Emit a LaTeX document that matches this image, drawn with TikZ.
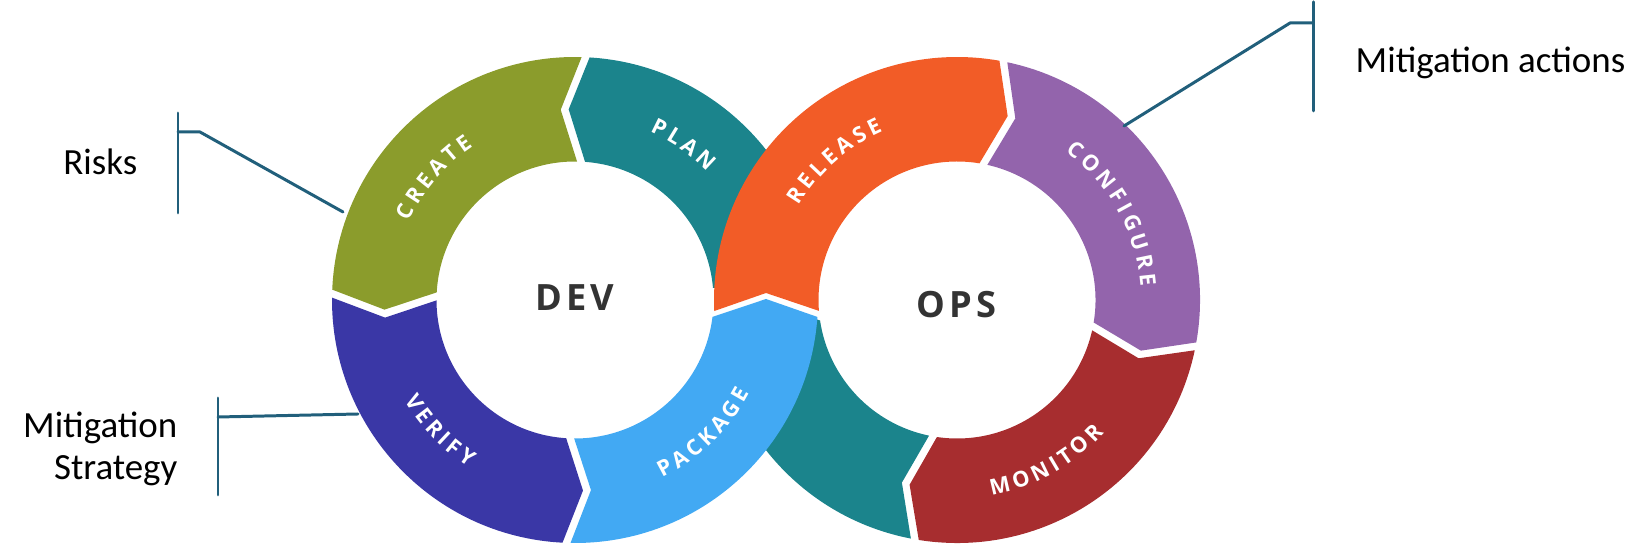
\documentclass[tikz,border=0pt]{standalone}
\usepackage{fontspec}
\setmainfont{Carlito}
\newfontfamily\opensans{Open Sans}[WordSpace=0.7]
\usetikzlibrary{calc,decorations.text}
\definecolor{cCreate}{HTML}{8B9C2C}
\definecolor{cTeal}{HTML}{1B848C}
\definecolor{cVerify}{HTML}{3A37A6}
\definecolor{cPackage}{HTML}{42A9F3}
\definecolor{cRelease}{HTML}{F25C27}
\definecolor{cConfig}{HTML}{9364AC}
\definecolor{cMonitor}{HTML}{A72D2F}
\definecolor{cLine}{HTML}{215F7B}
\definecolor{cDark}{HTML}{333333}
\def\RgIn{138.5}
\def\RgOut{243}
\def\RgMid{190.75}
\def\GpIn{1.655}
\def\GpOut{0.943}
\def\GpMid{1.2}
\def\TipD{5.6}
\newcommand{\labfont}{\opensans\bfseries\fontsize{6.2}{7}\selectfont}
% #1 centre, #2 start boundary angle, #3 end boundary angle, #4 direction (+1/-1), #5 colour
\newcommand{\ringseg}[5]{%
  \fill[#5] ($(#1)+({#2+(#4)*\GpIn}:\RgIn)$)
    -- ($(#1)+({#2+(#4)*(\GpMid+\TipD)}:\RgMid)$)
    -- ($(#1)+({#2+(#4)*\GpOut}:\RgOut)$)
    arc[start angle={#2+(#4)*\GpOut}, end angle={#3-(#4)*\GpOut}, radius=\RgOut]
    -- ($(#1)+({#3-(#4)*(\GpMid-\TipD)}:\RgMid)$)
    -- ($(#1)+({#3-(#4)*\GpIn}:\RgIn)$)
    arc[start angle={#3-(#4)*\GpIn}, end angle={#2+(#4)*\GpIn}, radius=\RgIn]
    -- cycle;}
% #1 centre, #2 start angle, #3 end angle, #4 radius, #5 text
\newcommand{\arclabel}[5]{%
  \path[decorate, decoration={text along path, text={|\labfont|#5}, text align=center, text color=white}]
    ($(#1)+(#2:#4)$) arc[start angle=#2, end angle=#3, radius=#4];}
\tikzset{
  lbl/.style={font=\fontsize{10.5}{12.5}\selectfont, text=black, inner sep=0pt},
  bracket/.style={draw=cLine, line width=0.85pt, line cap=round, line join=round},
  centrelbl/.style={font=\opensans\bfseries\fontsize{10.3}{12}\selectfont, text=cDark, inner sep=0pt}
}
\begin{document}
\begin{tikzpicture}[x=0.01cm,y=0.01cm]
\useasboundingbox (0,0) rectangle (1652,549);
\coordinate (D) at (575,249);
\coordinate (O) at (957,249);
\coordinate (xTipUp) at (766,250);   % tip of PACKAGE
\coordinate (xNotch) at (766,256);   % notch of RELEASE
\coordinate (xHide) at (766,247);    % hidden end of teal band
% teal band, DEV part (PLAN)
\fill[cTeal] ($(D)+(5:\RgIn)$) -- ($(D)+(5:\RgOut)$)
  arc[start angle=5, end angle={87.5-\GpOut}, radius=\RgOut]
  -- ($(D)+({87.5-\GpMid+\TipD}:\RgMid)$)
  -- ($(D)+({87.5-\GpIn}:\RgIn)$)
  arc[start angle={87.5-\GpIn}, end angle=5, radius=\RgIn] -- cycle;
% teal band, OPS part
\fill[cTeal] ($(O)+({-100-\GpIn}:\RgIn)$)
  -- ($(O)+({-100-\GpMid-\TipD}:\RgMid)$)
  -- ($(O)+({-100-\GpOut}:\RgOut)$)
  arc[start angle={-100-\GpOut}, end angle=-175.5, radius=\RgOut]
  -- (xHide)
  -- ($(O)+(-171.5:\RgIn)$)
  arc[start angle=-171.5, end angle={-100-\GpIn}, radius=\RgIn] -- cycle;
\ringseg{D}{87.5}{178.5}{1}{cCreate}
\ringseg{D}{178.5}{268}{1}{cVerify}
% PACKAGE
\fill[cPackage] ($(D)+({268+\GpIn}:\RgIn)$)
  -- ($(D)+({268+\GpMid+\TipD}:\RgMid)$)
  -- ($(D)+({268+\GpOut}:\RgOut)$)
  arc[start angle={268+\GpOut}, end angle=356, radius=\RgOut]
  -- (xTipUp)
  -- ($(D)+(353:\RgIn)$)
  arc[start angle=353, end angle={268+\GpIn}, radius=\RgIn] -- cycle;
% RELEASE
\fill[cRelease] ($(O)+(184.5:\RgIn)$)
  -- (xNotch)
  -- ($(O)+(182.6:\RgOut)$)
  arc[start angle=182.6, end angle={79+\GpOut}, radius=\RgOut]
  -- ($(O)+({79+\GpMid-\TipD}:\RgMid)$)
  -- ($(O)+({79+\GpIn}:\RgIn)$)
  arc[start angle={79+\GpIn}, end angle=184.5, radius=\RgIn] -- cycle;
\ringseg{O}{79}{-11}{-1}{cConfig}
\ringseg{O}{-11}{-100}{-1}{cMonitor}
% ring labels
\arclabel{D}{179}{99}{184}{C R E A T E}
\arclabel{D}{95}{15}{184}{P L A N}
\arclabel{D}{184}{264}{198}{V E R I F Y}
\arclabel{D}{274}{354}{198}{P A C K A G E}
\arclabel{O}{171.5}{91.5}{184}{R E L E A S E}
\arclabel{O}{69}{-11}{184}{C O N F I G U R E}
\arclabel{O}{259}{339}{198}{M O N I T O R}
% centre labels
\node[centrelbl] (dev) at (575,251) {D\kern1.2pt E\kern1.2pt V};
\node[centrelbl] (ops) at (956,244) {O\kern1.2pt P\kern1.2pt S};
% side texts
\node[lbl, anchor=base east] (risks) at (138,374) {Risks};
\node[lbl, anchor=base east] (mit1) at (178,111) {Mitigation};
\node[lbl, anchor=base east] (mit2) at (178,69) {Strategy};
\node[lbl, anchor=base west] (mact) at (1355,476) {Mitigation actions};
% brackets
\coordinate (rTop) at (178,436);
\coordinate (rBot) at (178,336);
\coordinate (rTick) at (178,417);
\coordinate (rKnee) at (200,417);
\coordinate (rEnd) at (343,337);
\draw[bracket] (rTop) -- (rBot);
\draw[bracket] (rTick) -- (rKnee) -- (rEnd);
\coordinate (sTop) at (218,151);
\coordinate (sBot) at (218,54);
\coordinate (sTick) at (218,132);
\coordinate (sEnd) at (358,135);
\draw[bracket] (sTop) -- (sBot);
\draw[bracket] (sTick) -- (sEnd);
\coordinate (aTop) at (1313,547);
\coordinate (aBot) at (1313,438);
\coordinate (aTick) at (1313,526);
\coordinate (aKnee) at (1290,526);
\coordinate (aEnd) at (1124,423);
\draw[bracket] (aTop) -- (aBot);
\draw[bracket] (aTick) -- (aKnee) -- (aEnd);
\end{tikzpicture}
\end{document}
